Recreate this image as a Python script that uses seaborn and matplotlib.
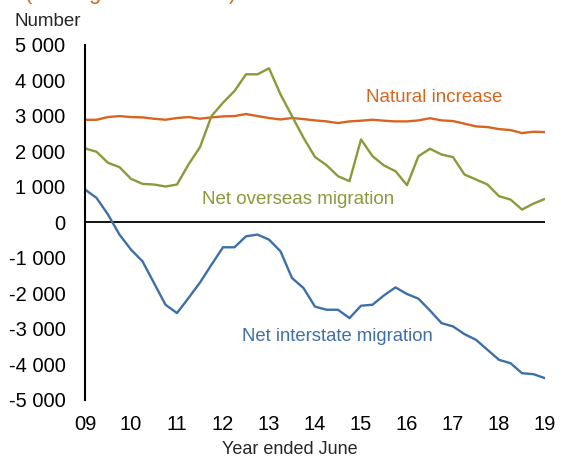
import numpy as np
import pandas as pd
import matplotlib
matplotlib.use("Agg")
import matplotlib.pyplot as plt
import seaborn as sns

# Quarterly observations, year ended June 2009 .. 2019
quarter = [2009 + k / 4 for k in range(41)]

natural_increase = [2890, 2890, 2967, 2995, 2967, 2958, 2920, 2892, 2940, 2967,
                    2920, 2958, 2986, 2995, 3052, 2995, 2940, 2900, 2940, 2910,
                    2873, 2845, 2798, 2845, 2864, 2892, 2864, 2845, 2845, 2873,
                    2935, 2873, 2855, 2780, 2704, 2685, 2628, 2600, 2515, 2553,
                    2543]

net_overseas = [2082, 1988, 1677, 1554, 1225, 1083, 1064, 1008, 1064, 1630,
                2120, 2995, 3372, 3702, 4173, 4173, 4343, 3608, 2995, 2383,
                1840, 1610, 1300, 1158, 2336, 1865, 1601, 1441, 1045, 1865,
                2072, 1912, 1837, 1347, 1206, 1064, 735, 640, 358, 527,
                659]

net_interstate = [923, 688, 217, -349, -772, -1102, -1714, -2327, -2562, -2138,
                  -1700, -1196, -706, -706, -396, -349, -490, -820, -1573, -1856,
                  -2380, -2468, -2468, -2704, -2355, -2327, -2063, -1837, -2025, -2157,
                  -2490, -2845, -2939, -3156, -3316, -3598, -3881, -3975, -4258, -4286,
                  -4399]

year_ticks = list(range(2009, 2020))
year_labels = ["09", "10", "11", "12", "13", "14", "15", "16", "17", "18", "19"]
y_ticks = [-5000, -4000, -3000, -2000, -1000, 0, 1000, 2000, 3000, 4000, 5000]
y_labels = ["-5 000", "-4 000", "-3 000", "-2 000", "-1 000", "0",
            "1 000", "2 000", "3 000", "4 000", "5 000"]

series_names = ["Natural increase", "Net overseas migration", "Net interstate migration"]
colors = {"Natural increase": "#D8651F",
          "Net overseas migration": "#8A9A3A",
          "Net interstate migration": "#3E6FA8"}

df = pd.DataFrame({
    "quarter": quarter * 3,
    "value": natural_increase + net_overseas + net_interstate,
    "series": sum([[n] * len(quarter) for n in series_names], []),
})

sns.set_theme(style="white")
plt.rcParams["font.family"] = ["Liberation Sans", "DejaVu Sans"]

W, H = 561, 459
fig = plt.figure(figsize=(W / 100, H / 100), dpi=100)
ax = fig.add_axes([85 / W, 1 - 399.5 / H, (545 - 85) / W, (399.5 - 45) / H])

sns.lineplot(data=df, x="quarter", y="value", hue="series", palette=colors,
             hue_order=series_names, linewidth=1.7, legend=False, ax=ax,
             solid_joinstyle="round", solid_capstyle="round")

ax.axhline(0, color="black", linewidth=1.3, zorder=1)

ax.set_xlim(2009, 2019)
ax.set_ylim(-5000, 5000)
ax.set_xticks(year_ticks)
ax.set_xticklabels(year_labels)
ax.set_yticks(y_ticks)
ax.set_yticklabels(y_labels)
ax.tick_params(axis="both", length=0, labelsize=14.5, colors="black")
ax.tick_params(axis="y", pad=14)
ax.tick_params(axis="x", pad=11)
ax.set_xlabel("")
ax.set_ylabel("")
for s in ["top", "right", "bottom"]:
    ax.spines[s].set_visible(False)
ax.spines["left"].set_color("black")
ax.spines["left"].set_linewidth(1.5)
ax.grid(False)

ax.text(2016.6, 3520, "Natural increase", color=colors["Natural increase"],
        fontsize=13.5, ha="center", va="center")
ax.text(2013.63, 650, "Net overseas migration", color=colors["Net overseas migration"],
        fontsize=13.5, ha="center", va="center")
ax.text(2014.49, -3220, "Net interstate migration", color=colors["Net interstate migration"],
        fontsize=13.3, ha="center", va="center")

fig.text(15 / W, 1 - 22 / H, "Number", fontsize=13.5, ha="left", va="center")
fig.text(290 / W, 1 - 450 / H, "Year ended June", fontsize=13, ha="center", va="center")
fig.text(25 / W, 1 + 1 / H, "(moving annual totals)", fontsize=15.5,
         color="#D8651F", ha="left", va="baseline")

fig.savefig("out.png", dpi=100)
